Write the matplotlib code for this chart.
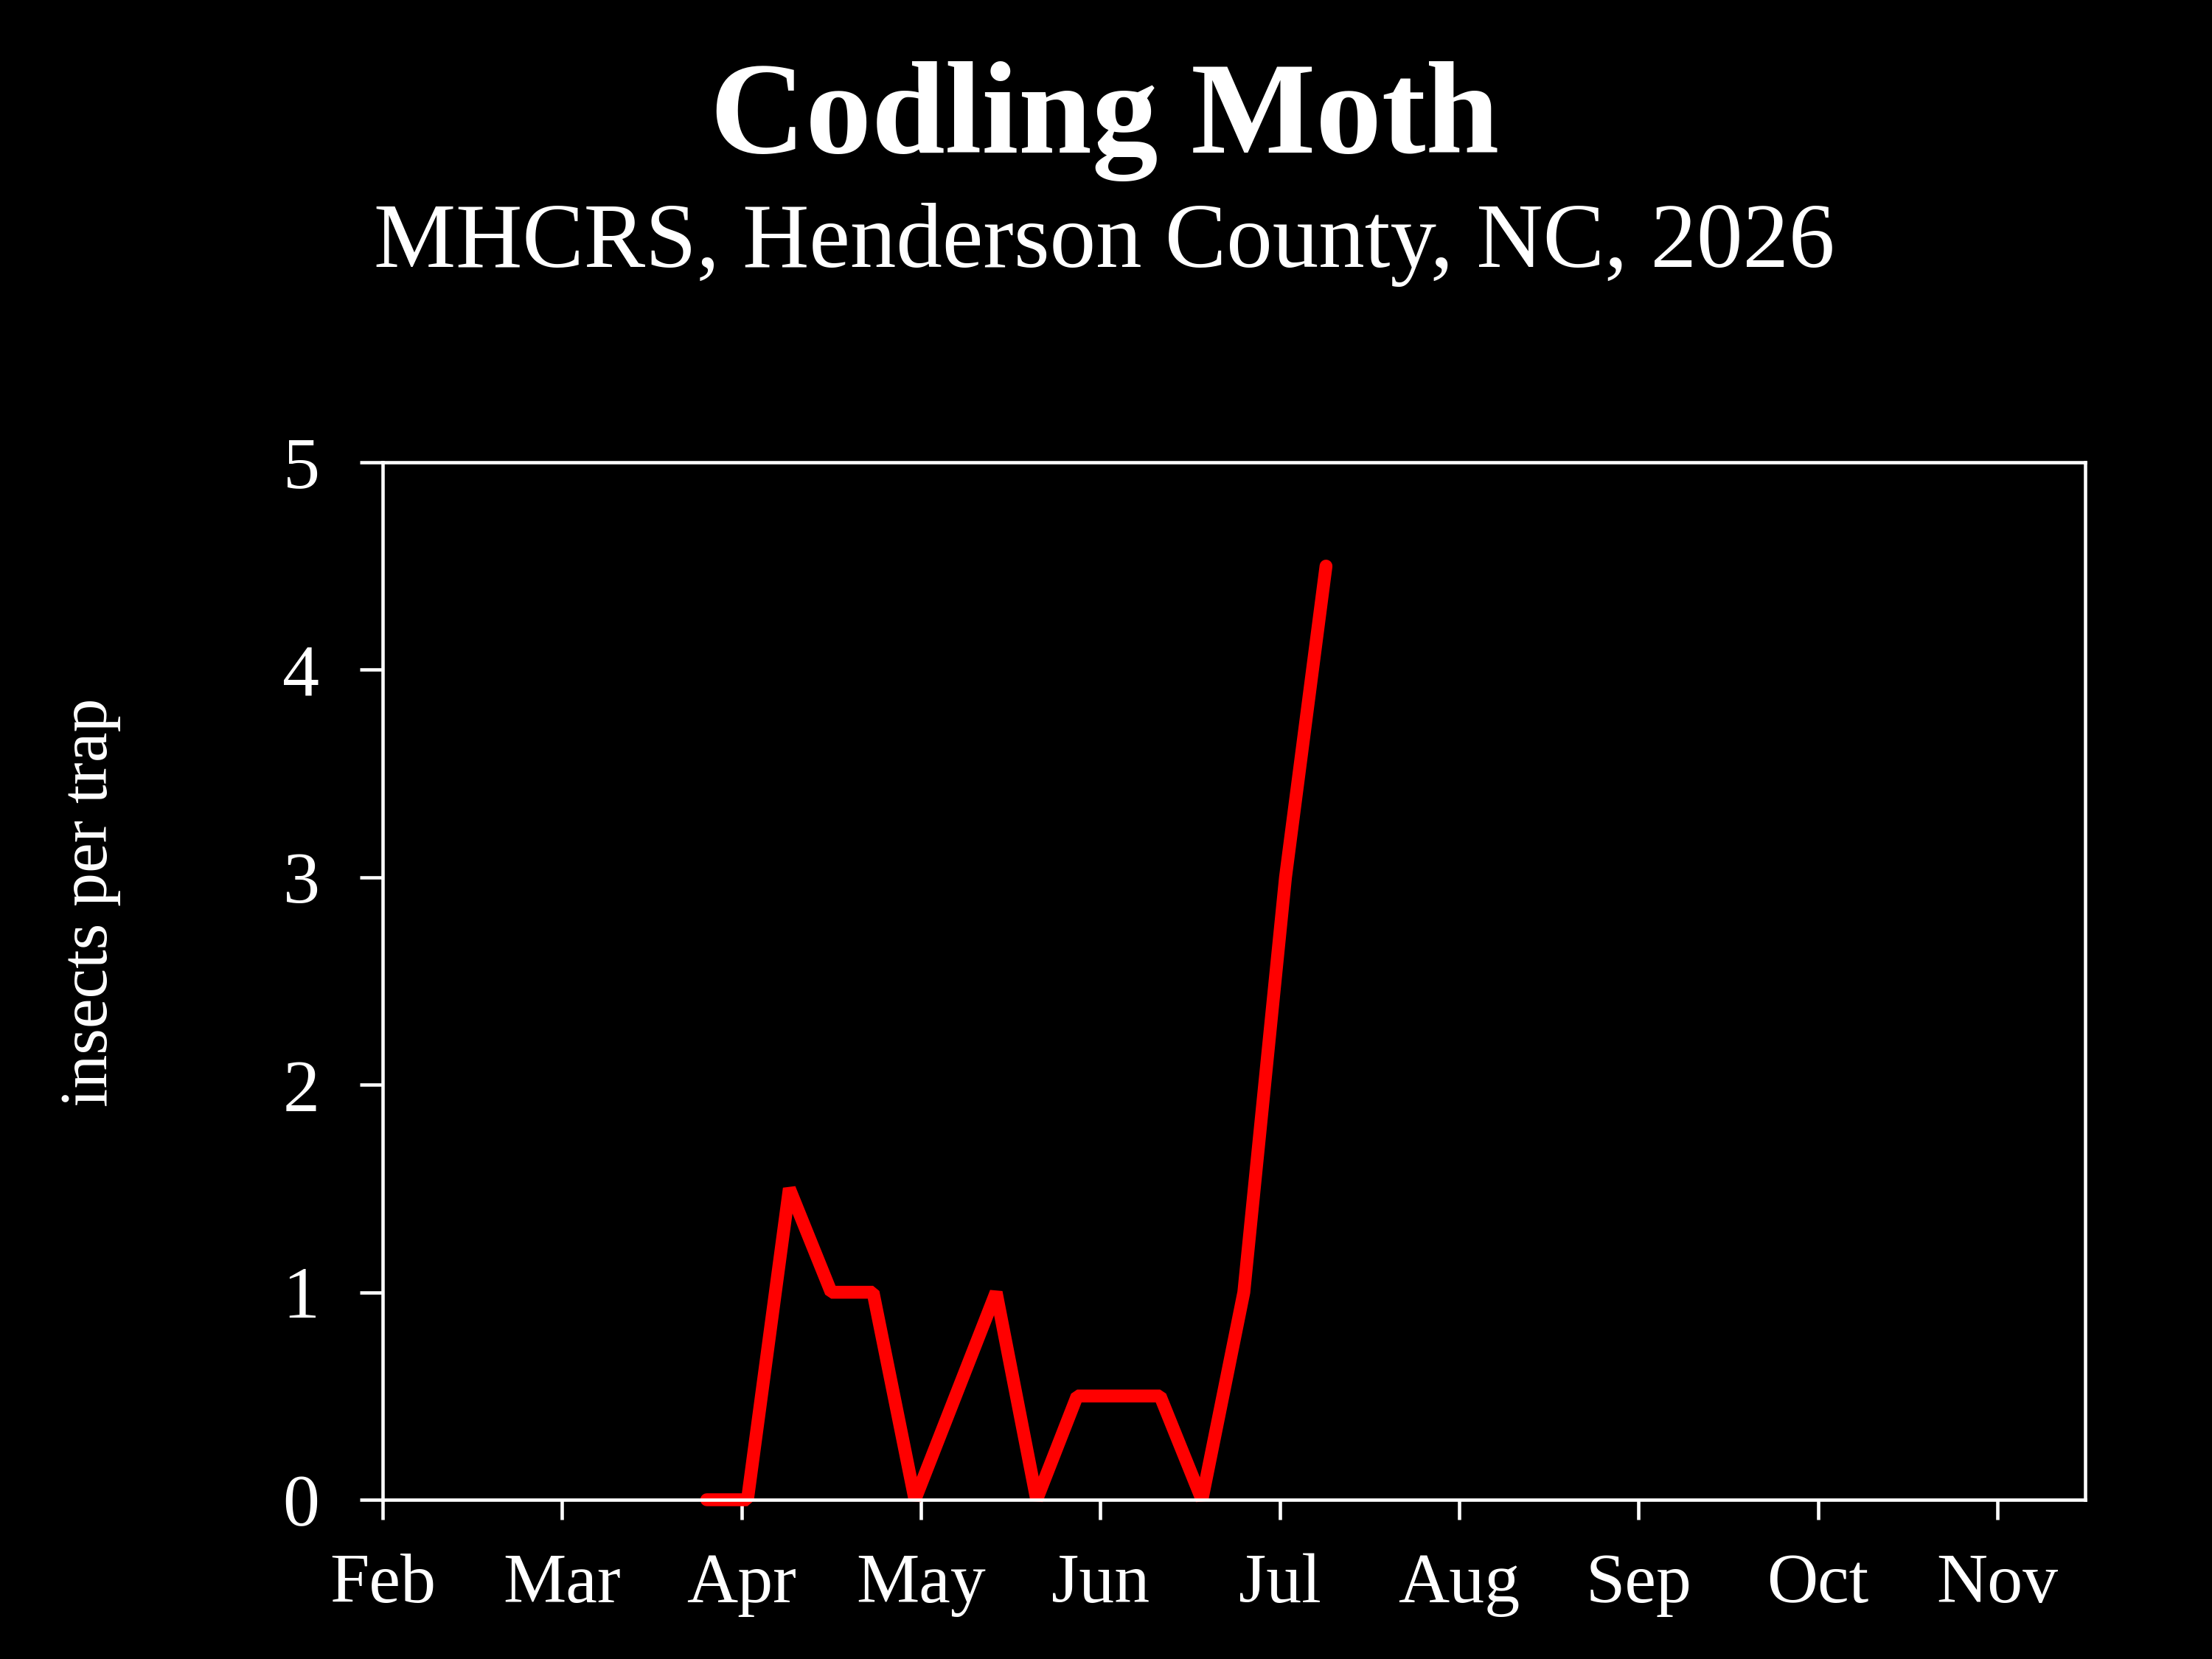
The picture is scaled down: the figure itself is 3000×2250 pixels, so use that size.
import datetime as dt
import calendar
import matplotlib
matplotlib.use("Agg")
from matplotlib import pyplot as plt

# trap dates and counts (insects per trap)
dates = ["2026-03-26", "2026-04-02", "2026-04-09", "2026-04-16", "2026-04-23",
         "2026-04-30", "2026-05-14", "2026-05-21", "2026-05-28", "2026-06-04",
         "2026-06-11", "2026-06-18", "2026-06-25", "2026-07-02", "2026-07-09"]
counts = [0, 0, 1.5, 1, 1, 0, 1, 0, 0.5, 0.5, 0.5, 0, 1, 3, 4.5]

month_ticks = [2, 3, 4, 5, 6, 7, 8, 9, 10, 11]
month_labels = ["Feb", "Mar", "Apr", "May", "Jun", "Jul", "Aug", "Sep", "Oct", "Nov"]
y_ticks = [0, 1, 2, 3, 4, 5]


def month_pos(s):
    d = dt.date.fromisoformat(s)
    n = calendar.monthrange(d.year, d.month)[1]
    return d.month + (d.day - 1) / n


x = [month_pos(s) for s in dates]

plt.rcParams['font.family'] = ['Liberation Serif', 'DejaVu Serif']

fig = plt.figure(figsize=(10, 7.5), dpi=300, facecolor="black")
ax = fig.add_axes([0.173, 0.096, 0.7697, 0.6253], facecolor="black")

ax.plot(x, counts, color="#ff0000", lw=4.2, solid_capstyle="round",
        solid_joinstyle="bevel", clip_on=False)

ax.set_xlim(2, 11.49)
ax.set_ylim(0, 5)
ax.set_xticks(month_ticks)
ax.set_xticklabels(month_labels)
ax.set_yticks(y_ticks)

for sp in ax.spines.values():
    sp.set_color("white")
    sp.set_linewidth(1.1)

ax.tick_params(axis="x", colors="white", direction="out", length=6.5, width=1.1,
               labelsize=23, pad=11)
ax.tick_params(axis="y", colors="white", direction="out", length=7.5, width=1.1,
               labelsize=24, pad=13)

fig.text(0.041, 0.456, "insects per trap", rotation=90, color="white",
         fontsize=22, ha="center", va="center")

fig.text(0.4993, 0.908, "Codling Moth", color="white", fontsize=43,
         fontweight="bold", ha="center", va="baseline")
fig.text(0.4993, 0.839, "MHCRS, Henderson County, NC, 2026", color="white",
         fontsize=30, ha="center", va="baseline")

fig.savefig("out.png", dpi=300, facecolor="black")
